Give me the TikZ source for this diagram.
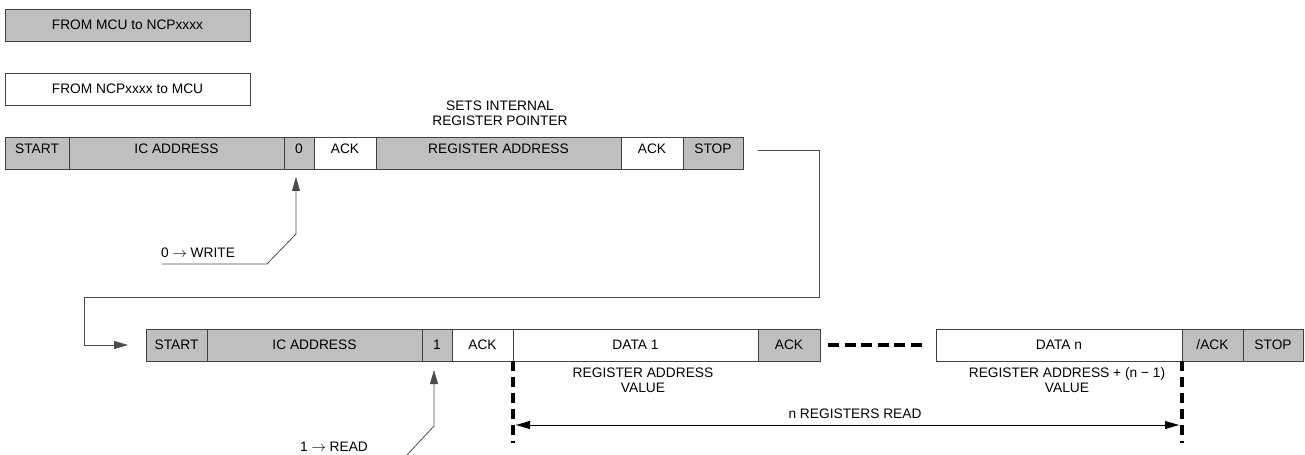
\documentclass[tikz,border=0pt]{standalone}
\usepackage{fontspec}
\setmainfont{Liberation Sans}
\usetikzlibrary{arrows.meta,calc}

\begin{document}
\begin{tikzpicture}[x=1bp,y=-1bp,
    font=\fontsize{13.8}{15.5}\selectfont,
    field/.style={draw=black!75, line width=0.8bp, minimum height=32bp, inner sep=0pt,
      outer sep=0pt, anchor=west, text height=9.5bp, text depth=0pt},
    conn/.style={draw=black!70, line width=0.8bp},
    tip/.style={-{Triangle[length=14bp,width=8bp]}},
    bus/.style={line width=3.2bp, dash pattern=on 10bp off 6bp}]
    \useasboundingbox (0,0) rectangle (1305,455);
    % legend
    \node[field, fill=gray!50, minimum width=245bp] (mcu) at (5,25) {FROM MCU to NCPxxxx};
    \node[field, fill=white, minimum width=245bp] (ncp) at (5,89) {FROM NCPxxxx to MCU};
    % write frame
    \foreach \nm/\x/\w/\txt/\fc in {wstart/5/64/START/gray!50, waddr/69/215/IC ADDRESS/gray!50,
        wbit/284/30/0/gray!50, wack/314/62/ACK/white, wreg/376/245/REGISTER ADDRESS/gray!50,
        wack2/621/62/ACK/white, wstop/683/60/STOP/gray!50} {
        \node[field, fill=\fc, minimum width=\w bp, text depth=9bp] (\nm) at (\x,153) {\txt};
      }
    \node[align=center] (ptr) at (500,113) {SETS INTERNAL\\REGISTER POINTER};
    % read frame
    \foreach \nm/\x/\w/\txt/\fc in {rstart/146/61/START/gray!50, raddr/207/215/IC ADDRESS/gray!50,
        rbit/422/30/1/gray!50, rack/452/61/ACK/white, rdata/513/245/DATA 1/white,
        rack1/758/62/ACK/gray!50, rdatan/936/246/DATA n/white, rnack/1182/61/{/ACK}/gray!50,
        rstop/1243/60/STOP/gray!50} {
        \node[field, fill=\fc, minimum width=\w bp] (\nm) at (\x,345) {\txt};
      }
    \draw[bus, dash pattern=on 11bp off 5.5bp] ($(rack1.east)+(8,0)$) -- ($(rdatan.west)+(-14,0)$);
    % stop -> restart
    \coordinate (bendR) at (819,297);
    \coordinate (bendL) at (84,297);
    \draw[conn, tip] ($(wstop.east)+(15,-3)$) -| (bendR) -- (bendL) |- ($(rstart.west)+(-18,0)$);
    % r/w bit
    \node (wrlbl) at (198,253) {0 $\rightarrow$ WRITE};
    \coordinate (wfoot) at (162,264);
    \draw[conn, tip] (wfoot) -- ++(105,0) -- ++(29,-30) -- ($(wbit.south)+(-3,8)$);
    \node (rdlbl) at (334,447) {1 $\rightarrow$ READ};
    \coordinate (rfoot) at (407,455);
    \draw[conn, tip] (rfoot) -- ++(27,-29) -- ($(rbit.south)+(-3,9)$);
    % registers read
    \draw[bus] (rdata.south west) -- ++(0,82);
    \draw[bus] (rdatan.south east) -- ++(0,82);
    \draw[conn, draw=black, {Triangle[length=14bp,width=8bp]}-{Triangle[length=14bp,width=8bp]}]
      ($(rdata.south west)+(3,64)$) -- ($(rdatan.south east)+(-3,64)$);
    \node (nread) at (855,414) {n REGISTERS READ};
    \node[align=center] (val1) at (643,380) {REGISTER ADDRESS\\VALUE};
    \node[align=center] (valn) at (1067,380) {REGISTER ADDRESS + (n − 1)\\VALUE};
  \end{tikzpicture}
\end{document}
